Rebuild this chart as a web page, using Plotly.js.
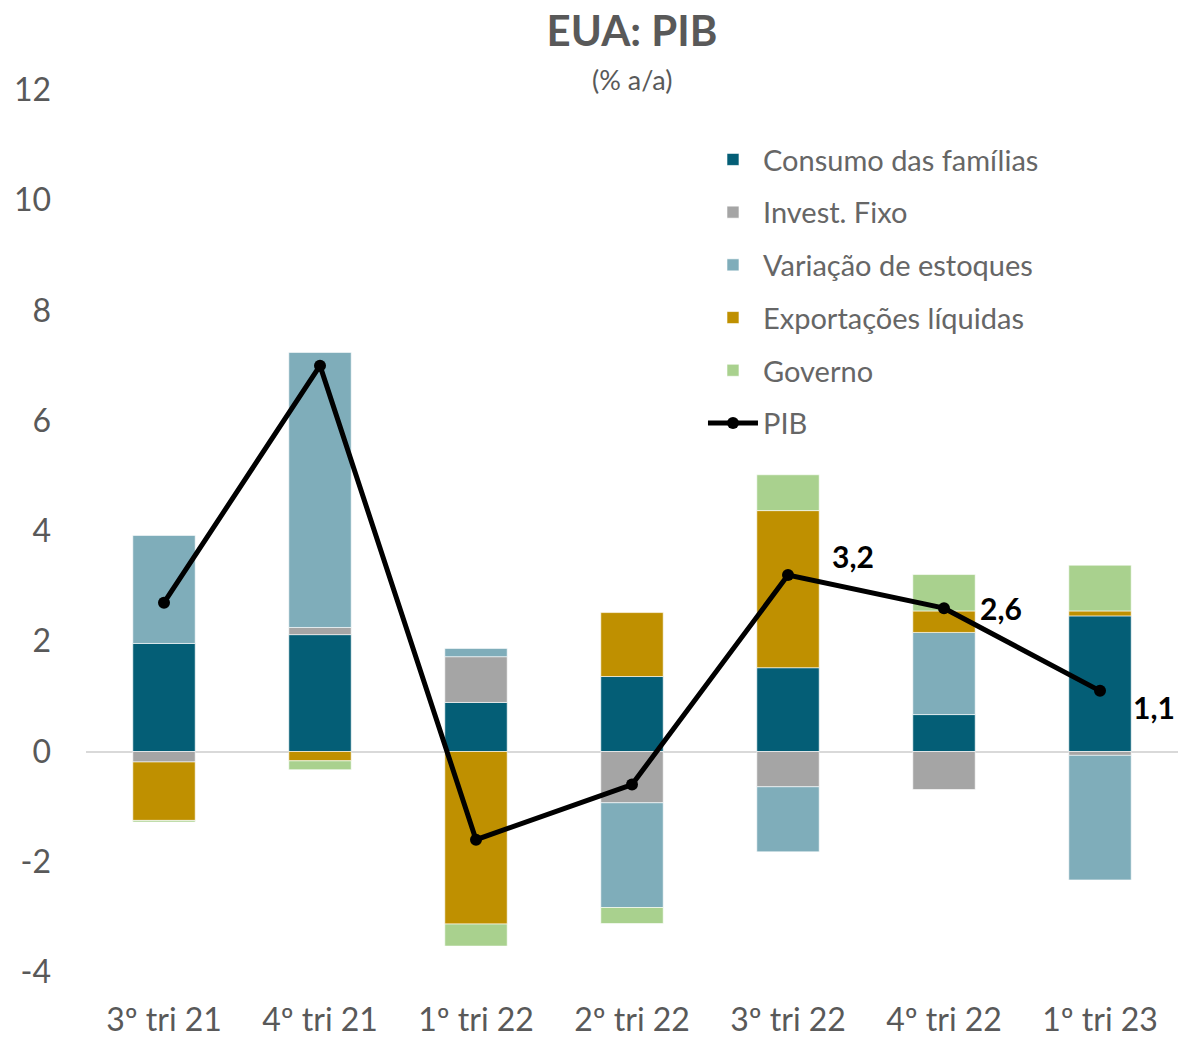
<!DOCTYPE html>
<html>
<head>
<meta charset="utf-8">
<script src="https://cdn.plot.ly/plotly-3.0.1.min.js"></script>
<style>html,body{margin:0;padding:0;background:#fff;}#chart{width:1178px;height:1038px;}</style>
</head>
<body>
<div id="chart"></div>
<script>
const categories = ['3º tri 21', '4º tri 21', '1º tri 22', '2º tri 22', '3º tri 22', '4º tri 22', '1º tri 23'];
const consumo   = [1.96, 2.12, 0.89, 1.36, 1.52, 0.67, 2.46];
const invest    = [-0.19, 0.13, 0.83, -0.93, -0.64, -0.69, -0.07];
const estoques  = [1.96, 4.99, 0.15, -1.90, -1.18, 1.49, -2.26];
const exportliq = [-1.06, -0.17, -3.13, 1.16, 2.85, 0.39, 0.09];
const governo   = [-0.03, -0.16, -0.40, -0.29, 0.65, 0.66, 0.83];
const pib       = [2.7, 7.0, -1.6, -0.6, 3.2, 2.6, 1.1];
const labelIdx  = [4, 5, 6];
const yTickVals = [-4, -2, 0, 2, 4, 6, 8, 10, 12];
const yTickText = ['-4', '-2', '0', '2', '4', '6', '8', '10', '12'];
const seriesNames = ['Consumo das famílias', 'Invest. Fixo', 'Variação de estoques', 'Exportações líquidas', 'Governo', 'PIB'];

const colors = ['#045E76', '#A5A5A5', '#7FADBA', '#BF9000', '#A9D18E'];
const barData = [consumo, invest, estoques, exportliq, governo];

const traces = barData.map((vals, i) => ({
  type: 'bar', x: categories, y: vals, name: seriesNames[i],
  marker: {color: colors[i], line: {color: 'rgba(255,255,255,0.6)', width: 1}},
  legendgroup: 'g' + i,
  hoverinfo: 'y+name'
}));
traces.push({
  type: 'scatter', mode: 'lines+markers', x: categories, y: pib, name: seriesNames[5],
  line: {color: '#000', width: 5}, marker: {color: '#000', size: 12},
  legendgroup: 'g5'
});

const shifts = [[65, 19], [57, 0], [54, -16]];
const annotations = labelIdx.map((k, j) => ({
  x: categories[k], y: pib[k], xref: 'x', yref: 'y',
  text: '<b>' + pib[k].toFixed(1).replace('.', ',') + '</b>',
  showarrow: false, xshift: shifts[j][0], yshift: shifts[j][1],
  font: {family: 'Lato, sans-serif', size: 30, color: '#000'}
}));
annotations.push({
  text: '(% a/a)', xref: 'paper', yref: 'paper', x: 0.5, y: 1.0, yanchor: 'bottom', yshift: -8,
  showarrow: false, font: {family: 'Lato, sans-serif', size: 27, color: '#595959'}
});

const layout = {
  width: 1178, height: 1038,
  margin: {l: 86, r: 0, t: 90, b: 66},
  paper_bgcolor: '#fff', plot_bgcolor: '#fff',
  separators: ',.',
  barmode: 'relative', bargap: 0.6,
  title: {text: '<b>EUA: PIB</b>', x: 0.5, xref: 'paper', y: 0.97, yanchor: 'middle',
          font: {family: 'Lato, sans-serif', size: 42, color: '#595959'}},
  font: {family: 'Lato, sans-serif', color: '#595959'},
  xaxis: {type: 'category', showgrid: false, showline: false, ticks: '', ticklabelstandoff: 26,
          tickfont: {size: 32, color: '#595959'}},
  yaxis: {range: [-4, 12], tickmode: 'array', tickvals: yTickVals, ticktext: yTickText,
          showgrid: false, showline: false, ticks: '',
          zeroline: true, zerolinecolor: '#D9D9D9', zerolinewidth: 2, ticklabelstandoff: 34,
          tickfont: {size: 32, color: '#595959'}},
  legend: {x: 0.565, y: 0.95, xanchor: 'left', yanchor: 'top', bgcolor: 'rgba(0,0,0,0)',
           font: {size: 29, color: '#666666'}, tracegroupgap: 12, traceorder: 'grouped', itemwidth: 50},
  annotations: annotations,
  showlegend: true
};

Plotly.newPlot('chart', traces, layout, {displayModeBar: false, staticPlot: true});
</script>
</body>
</html>
